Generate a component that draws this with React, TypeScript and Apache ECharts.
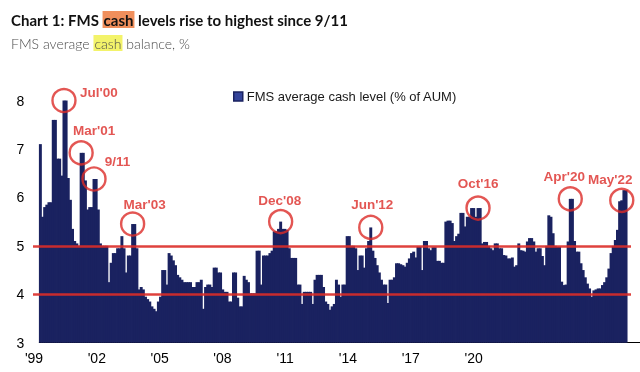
import React, { useEffect, useRef } from "react";
import * as echarts from "echarts";

// FMS average cash level (% of AUM), monthly bars (Aug 1999 .. May 2022)
const cashValues: number[] = [
  7.1, 5.6, 5.8, 5.85, 5.9, 5.9, 7.6, 7.6, 6.8, 6.8, 6.45, 8.0,
  8.0, 6.4, 5.95, 5.35, 5.1, 5.05, 5.0, 6.92, 6.92, 6.35, 5.75, 5.8,
  5.8, 6.38, 6.38, 5.75, 5.05, 5.0, 5.0, 5.0, 4.25, 4.65, 4.85, 4.85,
  4.95, 4.95, 5.2, 4.95, 4.45, 4.8, 4.8, 5.45, 5.45, 4.95, 4.1, 4.15,
  4.1, 3.95, 3.9, 3.85, 3.75, 3.7, 3.65, 3.85, 3.95, 4.5, 4.5, 4.2,
  4.85, 4.8, 4.7, 4.6, 4.4, 4.35, 4.3, 4.25, 4.25, 4.25, 4.25, 4.15,
  4.15, 4.25, 4.25, 4.3, 3.7, 4.15, 4.2, 4.2, 4.15, 4.55, 4.55, 4.45,
  4.45, 4.1, 4.05, 4.05, 3.85, 3.85, 4.45, 4.45, 3.93, 3.75, 3.75, 4.38,
  4.3, 4.25, 4.02, 4.02, 4.02, 4.9, 4.9, 4.2, 4.8, 4.8, 4.8, 4.85,
  4.9, 5.3, 5.3, 5.35, 5.5, 5.35, 5.35, 5.33, 4.95, 4.75, 4.75, 4.75,
  4.2, 4.2, 3.8, 4.05, 4.05, 4.05, 4.05, 3.8, 4.3, 4.4, 4.4, 4.4,
  4.15, 3.85, 3.8, 3.68, 3.75, 3.8, 4.3, 4.2, 3.95, 4.2, 4.2, 5.2,
  5.2, 5.0, 5.0, 4.95, 4.5, 4.8, 4.8, 4.55, 4.95, 5.1, 5.38, 4.9,
  4.75, 4.6, 4.45, 4.3, 4.2, 4.2, 3.82, 4.3, 4.3, 4.35, 4.64, 4.64,
  4.62, 4.6, 4.57, 4.65, 4.74, 4.85, 4.88, 4.76, 4.98, 4.98, 4.5, 5.1,
  5.1, 4.95, 4.91, 4.97, 4.97, 4.69, 4.69, 4.65, 4.65, 5.5, 5.52, 5.52,
  5.47, 5.1, 5.2, 5.25, 5.68, 5.68, 5.4, 5.6, 5.6, 5.78, 5.78, 5.6,
  5.78, 5.78, 5.05, 5.08, 5.08, 5.0, 4.95, 4.91, 5.05, 5.05, 4.95, 4.95,
  4.81, 4.8, 4.74, 4.74, 4.76, 4.57, 4.6, 5.05, 4.91, 4.9, 4.88, 5.09,
  5.16, 5.16, 5.09, 4.88, 4.95, 4.95, 4.79, 4.6, 5.0, 5.63, 5.6, 5.26,
  5.0, 4.98, 4.98, 4.26, 4.19, 4.2, 5.09, 5.97, 5.97, 5.1, 4.88, 4.88,
  4.64, 4.5, 4.35, 4.22, 4.12, 3.95, 4.08, 4.1, 4.12, 4.12, 4.19, 4.25,
  4.35, 4.53, 4.85, 5.0, 5.12, 5.33, 5.92, 5.94, 6.15, 6.15,
];

// Month categories (the axis runs a few empty months past the last survey)
const MONTHS = ["Jan", "Feb", "Mar", "Apr", "May", "Jun", "Jul", "Aug", "Sep", "Oct", "Nov", "Dec"];
const categoryCount = 280;
const categories: string[] = Array.from({ length: categoryCount }, (_, i) => {
  const m = (7 + i) % 12;
  const y = 1999 + Math.floor((7 + i) / 12);
  return `${MONTHS[m]} ${y}`;
});

// x tick labels (as printed on the original axis)
const tickYears: number[] = [1999, 2002, 2005, 2008, 2011, 2014, 2017, 2020];
const tickLabels: string[] = ["'99", "'02", "'05", "'08", "'11", "'14", "'17", "'20"];

// y tick labels
const yTicks: number[] = [3, 4, 5, 6, 7, 8];
const Y_MIN = 3;

// reference lines
const refLines: number[] = [5, 4];

// annotations
const annotLabels: string[] = ["Jul'00", "Mar'01", "9/11", "Mar'03", "Dec'08", "Jun'12", "Oct'16", "Apr'20", "May'22"];
const annotIndex: number[] = [11, 19, 25, 43, 112, 154, 204, 247, 271];

// styling (label offsets from circle centres)
const annotOffsets: [number, number][] = [
  [35, -8], [13, -22], [23.5, -17], [12, -20], [-1, -21], [1.5, -23], [0, -25], [-6, -22], [-11.5, -21],
];

const NAVY = "#1a2260";
const RED = "#dc2c28";
const SERIES_NAME = "FMS average cash level (% of AUM)";

export default function App() {
  const ref = useRef<HTMLDivElement>(null);
  useEffect(() => {
    if (!ref.current) return;
    const chart = echarts.init(ref.current, undefined, { renderer: "svg" });
    const annotData = annotIndex.map((idx, k) => ({
      value: [idx, cashValues[idx]],
      name: annotLabels[k],
      label: { offset: annotOffsets[k] },
    }));
    const barData = cashValues.map((v, i) => [i, v]);
    chart.setOption({
      animation: false,
      textStyle: { fontFamily: "'Liberation Sans', Arial, sans-serif" },
      title: [
        {
          left: 6,
          top: 6,
          text: "{a|Chart 1: FMS }{hl|cash}{a| levels rise to highest since 9/11}",
          textStyle: {
            rich: {
              a: { fontFamily: "Lato", fontWeight: "bold", fontSize: 15, color: "#111" },
              hl: {
                fontFamily: "Lato",
                fontWeight: "bold",
                fontSize: 15,
                color: "#111",
                backgroundColor: "#f08f5c",
                padding: [1, 1, 1, 1],
              },
            },
          },
        },
        {
          left: 6,
          top: 30,
          text: "{a|FMS average }{hl|cash}{a| balance, %}",
          textStyle: {
            rich: {
              a: { fontFamily: "Lato", fontWeight: 300, fontSize: 14, color: "#4d4d4d" },
              hl: {
                fontFamily: "Lato",
                fontWeight: 300,
                fontSize: 14,
                color: "#4d4d4d",
                backgroundColor: "#f3f36a",
                padding: [1, 1, 1, 1],
              },
            },
          },
        },
      ],
      legend: {
        data: [SERIES_NAME],
        left: 228,
        top: 85,
        icon: "rect",
        itemWidth: 9,
        itemHeight: 9,
        itemGap: 4,
        textStyle: { fontSize: 13, color: "#1a1a1a", padding: [0, 0, 0, -1] },
        itemStyle: { color: "#34449a", borderColor: NAVY, borderWidth: 1.5 },
      },
      grid: [
        { left: 39.3, right: 0, top: 52.1, bottom: 29.3, containLabel: false },
        { left: 34, right: 0, top: 52.1, bottom: 29.3, containLabel: false },
      ],
      xAxis: [
        {
          type: "category",
          gridIndex: 0,
          data: categories,
          boundaryGap: true,
          axisLine: { show: true, lineStyle: { color: "#000", width: 1 } },
          axisTick: { show: false },
          axisLabel: { show: false },
          splitLine: { show: false },
        },
        {
          type: "value",
          gridIndex: 1,
          position: "bottom",
          min: 1999,
          max: 2027.95,
          axisLine: { show: false },
          axisTick: { show: false },
          splitLine: { show: false },
          axisLabel: {
            show: true,
            customValues: tickYears,
            fontSize: 14,
            color: "#000",
            margin: 8,
            formatter: (v: number) => {
              const k = tickYears.indexOf(Math.round(v));
              return k >= 0 ? tickLabels[k] : "";
            },
          },
        },
      ],
      yAxis: [
        {
          type: "value",
          gridIndex: 0,
          min: Y_MIN,
          max: 9,
          interval: 1,
          axisLine: { show: false },
          axisTick: { show: false },
          splitLine: { show: false },
          axisLabel: {
            fontSize: 14,
            color: "#000",
            margin: 15,
            formatter: (v: number) => (yTicks.indexOf(v) >= 0 ? String(v) : ""),
          },
        },
        {
          type: "value",
          gridIndex: 1,
          min: Y_MIN,
          max: 9,
          show: false,
        },
      ],
      series: [
        {
          name: SERIES_NAME,
          type: "custom",
          xAxisIndex: 0,
          yAxisIndex: 0,
          data: barData,
          encode: { x: 0, y: 1 },
          itemStyle: { color: NAVY },
          renderItem: (params: any, api: any) => {
            const top = api.coord([api.value(0), api.value(1)]);
            const base = api.coord([api.value(0), Y_MIN]);
            const w = api.size([1, 0])[0];
            return {
              type: "rect",
              shape: { x: top[0] - w / 2 - 0.4, y: top[1], width: w + 0.8, height: base[1] - top[1] },
              style: { fill: NAVY },
            };
          },
          markLine: {
            silent: true,
            symbol: "none",
            label: { show: false },
            lineStyle: { color: RED, width: 2.5, type: "solid", opacity: 0.9 },
            data: refLines.map((v) => [
              { x: 33, yAxis: v },
              { x: 631, yAxis: v },
            ]),
          },
          z: 2,
        },
        {
          name: "annotations",
          type: "scatter",
          xAxisIndex: 0,
          yAxisIndex: 0,
          data: annotData,
          symbol: "circle",
          symbolSize: 23,
          itemStyle: { color: "rgba(0,0,0,0)", borderColor: RED, borderWidth: 2.4 },
          label: {
            show: true,
            position: "inside",
            formatter: (p: any) => p.name,
            color: RED,
            fontWeight: "bold",
            fontSize: 13.5,
            align: "center",
            verticalAlign: "middle",
          },
          silent: true,
          z: 5,
        },
      ],
    });
    return () => chart.dispose();
  }, []);
  return <div ref={ref} style={{ position: "fixed", left: 0, top: 0, width: 640, height: 372 }} />;
}
